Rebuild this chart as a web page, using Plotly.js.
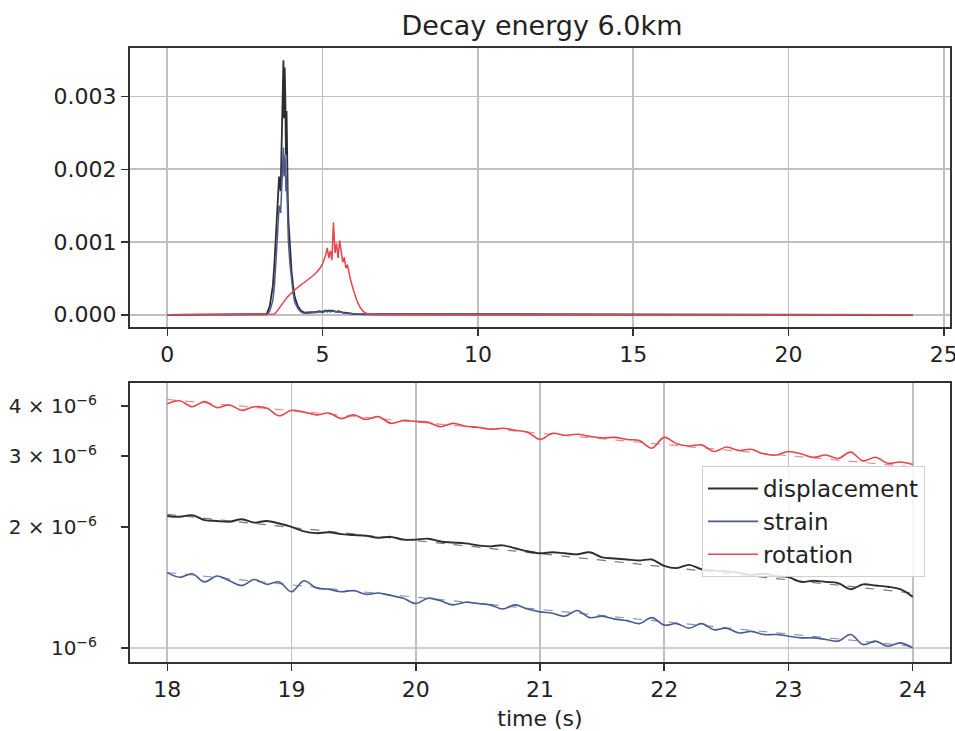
<!DOCTYPE html>
<html>
<head>
<meta charset="utf-8">
<script src="https://cdn.plot.ly/plotly-3.0.1.min.js"></script>
<style>html,body{margin:0;padding:0;background:#fff;}#chart{width:955px;height:731px;}</style>
</head>
<body>
<div id="chart"></div>
<script>
// ---------- Top panel: decay energy vs time ----------
var topTime = [0, 3.0, 3.2, 3.3, 3.4, 3.45, 3.5, 3.55, 3.6, 3.65,
  3.7, 3.72, 3.74, 3.76, 3.78, 3.8, 3.82, 3.84, 3.86, 3.88,
  3.9, 3.95, 4.0, 4.05, 4.1, 4.2, 4.3, 4.4, 4.5, 4.6,
  4.7, 4.8, 4.9, 5.0, 5.1, 5.15, 5.2, 5.25, 5.3, 5.35,
  5.4, 5.45, 5.5, 5.55, 5.6, 5.65, 5.7, 5.75, 5.8, 5.9,
  6.0, 6.1, 6.2, 6.3, 6.4, 6.5, 6.7, 7.0, 7.5, 10, 24];

var topDisplacement = [0, 0, 0.00001, 0.00012, 0.0004, 0.0007, 0.0011, 0.0015, 0.0019, 0.0017,
  0.0026, 0.0031, 0.0035, 0.0027, 0.0034, 0.0030, 0.0022, 0.0028, 0.0019, 0.0016,
  0.0013, 0.0009, 0.0006, 0.0004, 0.00025, 0.00012, 0.00006, 0.00003, 0.00003, 0.00003,
  0.00004, 0.00004, 0.00005, 0.00004, 0.00006, 0.00005, 0.00006, 0.00005, 0.00006, 0.00005,
  0.00005, 0.00004, 0.00005, 0.00004, 0.00004, 0.00003, 0.00003, 0.00003, 0.00002, 0.00002,
  0.00001, 0.00001, 0.000005, 0.000003, 0.000002, 0.000001, 0, 0, 0, 0, 0];

var topStrain = [0, 0, 0, 0.00005, 0.0002, 0.0004, 0.0007, 0.0011, 0.0015, 0.0014,
  0.0019, 0.0021, 0.0023, 0.0019, 0.0022, 0.0021, 0.0017, 0.0019, 0.0014, 0.0012,
  0.0010, 0.0007, 0.00045, 0.0003, 0.00018, 0.00009, 0.00004, 0.00002, 0.00002, 0.00002,
  0.00003, 0.00003, 0.00004, 0.00003, 0.00005, 0.00004, 0.00005, 0.00004, 0.00005, 0.00004,
  0.00004, 0.00004, 0.00004, 0.00003, 0.00003, 0.00003, 0.00002, 0.00002, 0.00002, 0.00002,
  0.00001, 0.00001, 0.000005, 0.000003, 0.000002, 0.000001, 0, 0, 0, 0, 0];

var topRotation = [0, 0, 0, 0, 0, 0.00001, 0.00003, 0.00006, 0.0001, 0.00013,
  0.00016, 0.00017, 0.00018, 0.00019, 0.0002, 0.00021, 0.00022, 0.00023, 0.00024, 0.00025,
  0.00026, 0.00028, 0.0003, 0.00032, 0.00034, 0.00038, 0.00041, 0.00044, 0.00047, 0.0005,
  0.00054, 0.00058, 0.00063, 0.0007, 0.00082, 0.00092, 0.00078, 0.00088, 0.00075, 0.00127,
  0.00085, 0.00098, 0.00078, 0.00102, 0.00083, 0.00072, 0.00079, 0.00064, 0.00069, 0.00048,
  0.00033, 0.0002, 0.00011, 0.00005, 0.00002, 0.00001, 0.000005, 0.000002, 0, 0, 0];

// ---------- Bottom panel: decay tail 18-24 s (log scale) ----------
var tailTime = [18.0, 18.1, 18.2, 18.3, 18.4, 18.5, 18.6, 18.7, 18.8, 18.9,
  19.0, 19.1, 19.2, 19.3, 19.4, 19.5, 19.6, 19.7, 19.8, 19.9,
  20.0, 20.1, 20.2, 20.3, 20.4, 20.5, 20.6, 20.7, 20.8, 20.9,
  21.0, 21.1, 21.2, 21.3, 21.4, 21.5, 21.6, 21.7, 21.8, 21.9,
  22.0, 22.1, 22.2, 22.3, 22.4, 22.5, 22.6, 22.7, 22.8, 22.9,
  23.0, 23.1, 23.2, 23.3, 23.4, 23.5, 23.6, 23.7, 23.8, 23.9, 24.0];

var tailRotation = [4.05e-6, 4.12e-6, 3.98e-6, 4.10e-6, 3.96e-6, 4.02e-6, 3.90e-6, 3.98e-6, 3.95e-6, 3.78e-6,
  3.90e-6, 3.86e-6, 3.80e-6, 3.84e-6, 3.72e-6, 3.80e-6, 3.70e-6, 3.76e-6, 3.62e-6, 3.68e-6,
  3.66e-6, 3.64e-6, 3.55e-6, 3.62e-6, 3.56e-6, 3.54e-6, 3.50e-6, 3.52e-6, 3.48e-6, 3.44e-6,
  3.30e-6, 3.42e-6, 3.38e-6, 3.40e-6, 3.36e-6, 3.33e-6, 3.34e-6, 3.30e-6, 3.28e-6, 3.14e-6,
  3.34e-6, 3.22e-6, 3.18e-6, 3.20e-6, 3.08e-6, 3.16e-6, 3.10e-6, 3.12e-6, 3.04e-6, 3.02e-6,
  3.08e-6, 3.04e-6, 2.98e-6, 3.02e-6, 2.96e-6, 3.07e-6, 2.92e-6, 2.98e-6, 2.88e-6, 2.90e-6, 2.86e-6];

var tailDisplacement = [2.13e-6, 2.12e-6, 2.14e-6, 2.08e-6, 2.07e-6, 2.06e-6, 2.09e-6, 2.05e-6, 2.07e-6, 2.04e-6,
  2.00e-6, 1.95e-6, 1.93e-6, 1.94e-6, 1.92e-6, 1.91e-6, 1.90e-6, 1.88e-6, 1.89e-6, 1.86e-6,
  1.86e-6, 1.87e-6, 1.84e-6, 1.83e-6, 1.82e-6, 1.80e-6, 1.79e-6, 1.80e-6, 1.77e-6, 1.74e-6,
  1.72e-6, 1.73e-6, 1.72e-6, 1.71e-6, 1.73e-6, 1.68e-6, 1.67e-6, 1.66e-6, 1.65e-6, 1.66e-6,
  1.60e-6, 1.58e-6, 1.61e-6, 1.57e-6, 1.56e-6, 1.55e-6, 1.54e-6, 1.52e-6, 1.53e-6, 1.51e-6,
  1.50e-6, 1.46e-6, 1.47e-6, 1.46e-6, 1.45e-6, 1.40e-6, 1.44e-6, 1.43e-6, 1.42e-6, 1.40e-6, 1.34e-6];

var tailStrain = [1.54e-6, 1.50e-6, 1.53e-6, 1.46e-6, 1.51e-6, 1.47e-6, 1.43e-6, 1.48e-6, 1.44e-6, 1.46e-6,
  1.38e-6, 1.47e-6, 1.41e-6, 1.40e-6, 1.38e-6, 1.39e-6, 1.36e-6, 1.37e-6, 1.35e-6, 1.33e-6,
  1.29e-6, 1.33e-6, 1.31e-6, 1.28e-6, 1.30e-6, 1.29e-6, 1.28e-6, 1.25e-6, 1.28e-6, 1.25e-6,
  1.23e-6, 1.22e-6, 1.20e-6, 1.24e-6, 1.19e-6, 1.20e-6, 1.18e-6, 1.17e-6, 1.15e-6, 1.19e-6,
  1.14e-6, 1.15e-6, 1.12e-6, 1.15e-6, 1.11e-6, 1.12e-6, 1.09e-6, 1.10e-6, 1.08e-6, 1.08e-6,
  1.07e-6, 1.06e-6, 1.06e-6, 1.05e-6, 1.04e-6, 1.08e-6, 1.02e-6, 1.04e-6, 1.01e-6, 1.03e-6, 1.00e-6];

// exponential-decay fits (end points)
var fitTime = [18, 24];
var fitRotation = [4.15e-6, 2.82e-6];
var fitDisplacement = [2.15e-6, 1.37e-6];
var fitStrain = [1.54e-6, 1.01e-6];

// tick labels
var topXTicks = [0, 5, 10, 15, 20, 25];
var topYTicks = [0, 0.001, 0.002, 0.003];
var bottomXTicks = [18, 19, 20, 21, 22, 23, 24];
var bottomYTicks = [1e-6, 2e-6, 3e-6, 4e-6];
var bottomYTickText = ['10<sup>\u22126</sup>', '2 \u00d7 10<sup>\u22126</sup>', '3 \u00d7 10<sup>\u22126</sup>', '4 \u00d7 10<sup>\u22126</sup>'];
var seriesNames = ['displacement', 'strain', 'rotation'];

var cDisp = '#2e2e2e', cStrain = '#4b5a92', cRot = '#e3474d';

var traces = [
  {x: topTime, y: topDisplacement, xaxis: 'x', yaxis: 'y', mode: 'lines', line: {color: cDisp, width: 1.8}, showlegend: false},
  {x: topTime, y: topStrain, xaxis: 'x', yaxis: 'y', mode: 'lines', line: {color: cStrain, width: 1.5}, showlegend: false},
  {x: topTime, y: topRotation, xaxis: 'x', yaxis: 'y', mode: 'lines', line: {color: cRot, width: 1.5}, showlegend: false},

  {x: fitTime, y: fitDisplacement, xaxis: 'x2', yaxis: 'y2', mode: 'lines', line: {color: '#777', width: 1.2, dash: 'dash'}, showlegend: false},
  {x: fitTime, y: fitStrain, xaxis: 'x2', yaxis: 'y2', mode: 'lines', line: {color: '#8894c0', width: 1.2, dash: 'dash'}, showlegend: false},
  {x: fitTime, y: fitRotation, xaxis: 'x2', yaxis: 'y2', mode: 'lines', line: {color: '#ee8a8e', width: 1.2, dash: 'dash'}, showlegend: false},

  {x: tailTime, y: tailDisplacement, xaxis: 'x2', yaxis: 'y2', mode: 'lines', name: seriesNames[0], line: {color: cDisp, width: 1.9, shape: 'spline', smoothing: 1}},
  {x: tailTime, y: tailStrain, xaxis: 'x2', yaxis: 'y2', mode: 'lines', name: seriesNames[1], line: {color: cStrain, width: 1.6, shape: 'spline', smoothing: 1}},
  {x: tailTime, y: tailRotation, xaxis: 'x2', yaxis: 'y2', mode: 'lines', name: seriesNames[2], line: {color: cRot, width: 1.6, shape: 'spline', smoothing: 1}}
];

var tickFont = {family: 'DejaVu Sans', size: 22, color: '#222'};
var axisCommon = {
  showline: true, mirror: true, linecolor: '#333', linewidth: 2,
  ticks: 'outside', ticklen: 7, tickwidth: 1.5, tickcolor: '#333',
  tickfont: tickFont, zeroline: false, gridcolor: '#c0c0c0', gridwidth: 1.6,
  automargin: false, ticklabeloverflow: 'allow'
};

var layout = {
  width: 955, height: 731,
  margin: {l: 0, r: 0, t: 0, b: 0},
  paper_bgcolor: '#fff', plot_bgcolor: '#fff',
  font: {family: 'DejaVu Sans', color: '#222'},
  title: {text: 'Decay energy 6.0km', font: {family: 'DejaVu Sans', size: 27, color: '#222'},
          x: 542/955, xanchor: 'center', y: 1 - 26/731, yanchor: 'middle'},
  xaxis: Object.assign({}, axisCommon, {domain: [130/955, 950/955], range: [-1.2, 25.2],
          tickvals: topXTicks, anchor: 'y', showgrid: true}),
  yaxis: Object.assign({}, axisCommon, {domain: [1 - 327/731, 1 - 48/731], range: [-0.000168, 0.003667],
          tickvals: topYTicks, tickformat: '.3f', anchor: 'x', showgrid: true}),
  xaxis2: Object.assign({}, axisCommon, {domain: [130/955, 950/955], range: [17.7, 24.3],
          tickvals: bottomXTicks, anchor: 'y2', showgrid: true,
          title: {text: 'time (s)', font: {family: 'DejaVu Sans', size: 22, color: '#222'}, standoff: 9}}),
  yaxis2: Object.assign({}, axisCommon, {domain: [1 - 662/731, 1 - 383/731], type: 'log',
          range: [-6.0348, -5.341], tickvals: bottomYTicks, ticktext: bottomYTickText,
          tickfont: {family: 'DejaVu Sans', size: 20, color: '#222'},
          anchor: 'x2', showgrid: false, ticklabelstandoff: 20}),
  shapes: [
    {type: 'line', xref: 'x2 domain', yref: 'y2', x0: 0, x1: 1, y0: bottomYTicks[0], y1: bottomYTicks[0],
     line: {color: '#c0c0c0', width: 1.6}, layer: 'below'}
  ],
  legend: {x: 702/955, y: 1 - 466/731, xanchor: 'left', yanchor: 'top',
           bgcolor: 'rgba(255,255,255,0.85)', bordercolor: '#d0d0d0', borderwidth: 1,
           font: {family: 'DejaVu Sans', size: 23, color: '#222'}, itemwidth: 50, tracegroupgap: 0}
};

Plotly.newPlot('chart', traces, layout, {displayModeBar: false, staticPlot: true});
</script>
</body>
</html>
